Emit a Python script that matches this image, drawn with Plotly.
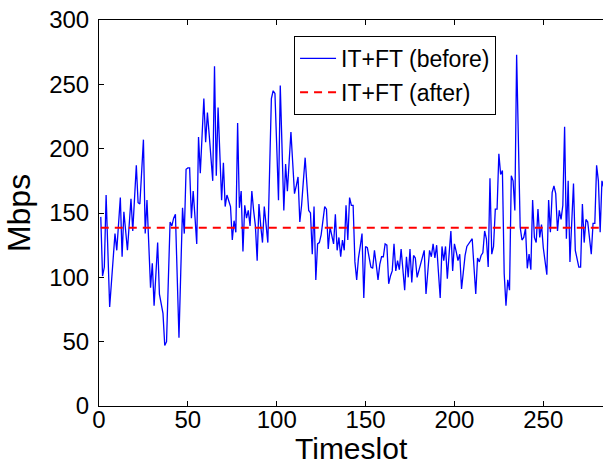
import plotly.graph_objects as go

# Throughput per timeslot before the IT+FT change (Mbps), timeslots 1..284
before_mbps = [
    147, 101, 108, 164, 120, 77, 96, 116, 134, 121,
    140, 162, 116, 151, 136, 121, 141, 161, 136, 160,
    187, 158, 157, 182, 207, 134, 160, 126, 92, 111,
    78, 102, 127, 87, 80, 72, 47, 50, 97, 143,
    140, 146, 149, 100, 53, 104, 154, 134, 184, 185,
    185, 146, 167, 147, 126, 209, 181, 210, 239, 205,
    228, 211, 193, 175, 264, 179, 232, 196, 160, 189,
    155, 164, 160, 155, 129, 144, 135, 220, 154, 167,
    120, 156, 146, 152, 140, 167, 152, 140, 113, 157,
    140, 127, 155, 140, 127, 183, 239, 245, 243, 202,
    160, 249, 200, 152, 188, 167, 190, 213, 189, 165,
    171, 178, 143, 156, 175, 193, 172, 152, 150, 118,
    155, 98, 126, 127, 133, 144, 155, 153, 122, 139,
    132, 126, 149, 121, 131, 116, 129, 121, 156, 129,
    162, 156, 156, 112, 98, 115, 124, 134, 84, 124,
    123, 115, 108, 107, 121, 110, 98, 110, 116, 116,
    126, 125, 95, 101, 105, 126, 105, 113, 106, 122,
    106, 90, 116, 100, 122, 96, 117, 115, 100, 105,
    110, 116, 121, 87, 104, 121, 116, 126, 115, 125,
    104, 84, 124, 113, 124, 99, 118, 136, 105, 126,
    120, 113, 118, 91, 104, 117, 124, 126, 129, 130,
    108, 87, 115, 112, 117, 119, 136, 130, 108, 177,
    118, 124, 153, 153, 196, 180, 183, 103, 78, 98,
    90, 179, 175, 152, 273, 190, 139, 129, 131, 138,
    107, 118, 106, 160, 131, 127, 153, 131, 141, 123,
    112, 102, 160, 135, 166, 171, 165, 136, 152, 145,
    156, 217, 130, 175, 112, 140, 173, 121, 114, 108,
    108, 157, 127, 145, 143, 130, 118, 142, 142, 187,
    175, 135, 175, 170,
]
timeslots = list(range(1, len(before_mbps) + 1))

# Constant throughput after the change (Mbps)
after_level = 138.6
after_mbps = [after_level] * len(timeslots)

x_ticks = [0, 50, 100, 150, 200, 250]
y_ticks = [0, 50, 100, 150, 200, 250, 300]

FONT = "Liberation Sans, Arial, Helvetica, sans-serif"

fig = go.Figure()
fig.add_trace(go.Scatter(
    x=timeslots, y=before_mbps, mode="lines", name="IT+FT (before)",
    line=dict(color="#0000FF", width=1.3), legendgroup="a",
))
fig.add_trace(go.Scatter(
    x=timeslots, y=after_mbps, mode="lines", name="IT+FT (after)",
    line=dict(color="#FF0000", width=2, dash="8px,6px"), legendgroup="b",
))

axis_common = dict(
    showline=True, linecolor="black", linewidth=1,
    ticks="inside", ticklen=5, tickcolor="black", tickwidth=1,
    showgrid=False, zeroline=False, automargin=False,
    tickfont=dict(family=FONT, size=24, color="black"),
)

fig.update_layout(
    width=603, height=466,
    margin=dict(l=99, r=0, t=20, b=60),
    paper_bgcolor="white", plot_bgcolor="white",
    font=dict(family=FONT, color="black"),
    showlegend=True,
    legend=dict(
        x=0.387, y=0.9585, xanchor="left", yanchor="top",
        bordercolor="black", borderwidth=1, bgcolor="white",
        font=dict(family=FONT, size=23, color="black"),
        tracegroupgap=1, itemwidth=36,
    ),
    xaxis=dict(
        range=[0, 283.6], tickvals=x_ticks, mirror="ticks",
        ticklabelstandoff=-8,
        **axis_common,
    ),
    yaxis=dict(
        range=[0, 300], tickvals=y_ticks, mirror=False,
        ticklabelstandoff=4,
        title=dict(text="Mbps", font=dict(family=FONT, size=32, color="black"),
                   standoff=8),
        **axis_common,
    ),
)

# x-axis title placed below the tick labels, near the bottom edge
fig.add_annotation(
    text="Timeslot", xref="paper", yref="paper", x=0.5, y=-0.111,
    xanchor="center", yanchor="middle", showarrow=False, borderpad=0,
    font=dict(family=FONT, size=30, color="black"),
)

fig.write_html("out.html")
